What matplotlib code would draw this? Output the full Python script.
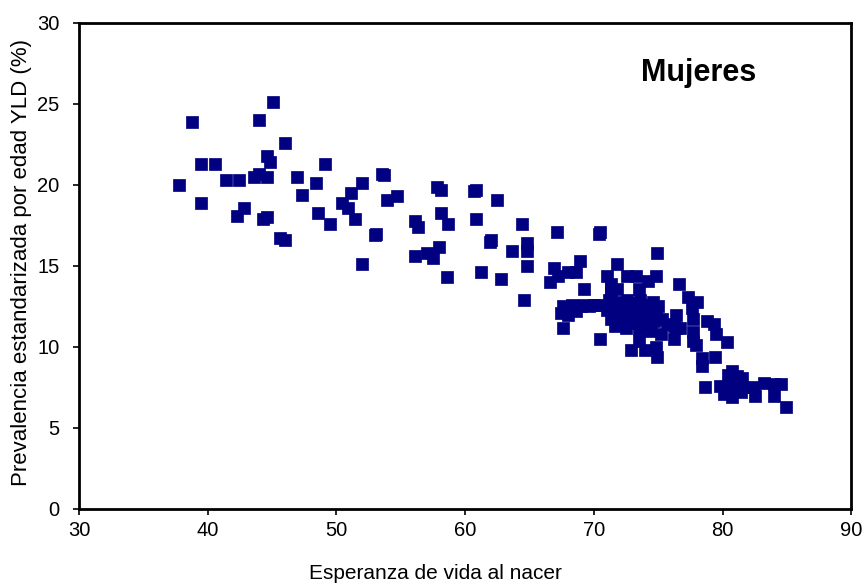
import matplotlib
matplotlib.use("Agg")
import matplotlib.pyplot as plt

plt.rcParams['font.family'] = ['Liberation Sans', 'DejaVu Sans']

esperanza_vida = [
    38.8, 44.0, 45.1, 46.0, 44.6, 44.8, 39.5, 40.6, 49.1, 37.8, 41.4, 42.4, 43.6, 44.0, 44.6, 46.9,
    48.4, 47.3, 51.1, 52.0, 39.5, 42.8, 42.3, 44.3, 44.6, 48.6, 50.4, 50.9, 51.4, 49.5, 45.6, 46.0, 52.0,
    53.5, 53.7, 53.9, 54.7, 57.8, 58.1, 60.8, 60.7, 62.5, 58.1, 58.7, 56.1, 56.3, 60.8, 64.4, 53.1, 53.0,
    62.0, 61.9, 64.8, 63.6, 64.8, 58.0, 56.1, 57.0, 57.5, 64.8, 58.6, 61.2, 62.8, 64.6,
    67.1, 70.5, 70.4, 74.9, 68.9, 71.8, 66.9, 67.2, 66.6, 68.0, 68.6, 71.0, 72.6, 73.3, 74.8, 74.2, 76.6,
    71.3, 71.3, 71.8, 73.5, 69.2, 69.2, 70.0,
    67.6, 68.3, 69.0, 69.6, 70.2, 67.4, 68.0, 68.6, 67.7, 67.6, 70.5,
    71.2, 71.6, 72.1, 72.6, 73.1, 73.6, 74.1, 74.6, 75.0,
    71.0, 71.5, 72.0, 72.4, 72.9, 73.3, 73.8, 74.3, 74.8,
    71.3, 71.8, 72.3, 72.8, 73.2, 73.7, 74.2, 74.7,
    71.6, 72.5, 73.5, 74.4, 71.9, 73.0,
    72.9, 74.0, 74.8, 74.9, 73.5, 75.2, 76.2, 76.4, 76.2, 76.4,
    77.3, 78.0, 77.6, 75.3, 75.7, 76.7, 77.7, 78.8, 79.3, 77.7, 77.7, 77.9, 79.5, 80.3, 78.4, 78.4, 79.4,
    71.3,
    78.6, 80.7, 81.1, 81.5, 79.8, 80.7, 80.1, 80.7, 81.6, 82.4, 83.2, 84.0, 84.5, 82.5, 84.0, 84.9,
    80.4, 81.0, 81.4, 80.5,
]

prevalencia_yld = [
    23.9, 24.0, 25.1, 22.6, 21.8, 21.4, 21.3, 21.3, 21.3, 20.0, 20.3, 20.3, 20.5, 20.7, 20.5, 20.5,
    20.1, 19.4, 19.5, 20.1, 18.9, 18.6, 18.1, 17.9, 18.0, 18.3, 18.9, 18.6, 17.9, 17.6, 16.7, 16.6, 15.1,
    20.7, 20.6, 19.1, 19.3, 19.9, 19.7, 19.7, 19.6, 19.1, 18.3, 17.6, 17.8, 17.4, 17.9, 17.6, 17.0, 16.9,
    16.6, 16.5, 16.4, 15.9, 15.9, 16.2, 15.6, 15.8, 15.5, 15.0, 14.3, 14.6, 14.2, 12.9,
    17.1, 17.1, 17.0, 15.8, 15.3, 15.1, 14.9, 14.4, 14.0, 14.6, 14.6, 14.4, 14.4, 14.4, 14.4, 14.1, 13.9,
    13.9, 13.6, 13.6, 13.6, 13.6, 12.6, 12.6,
    12.5, 12.6, 12.5, 12.5, 12.6, 12.1, 12.0, 12.2, 12.2, 11.2, 10.5,
    12.9, 12.7, 12.8, 12.9, 12.7, 12.9, 12.6, 12.8, 12.5,
    12.3, 12.1, 12.4, 12.2, 12.4, 12.1, 12.3, 12.0, 12.2,
    11.7, 11.9, 11.6, 11.8, 11.5, 11.7, 11.4, 11.6,
    11.3, 11.2, 11.1, 11.0, 12.0, 12.2,
    9.8, 9.8, 10.0, 9.4, 10.4, 10.8, 10.5, 12.0, 11.3, 11.2,
    13.1, 12.8, 12.4, 11.7, 11.4, 11.2, 11.7, 11.6, 11.4, 10.9, 10.4, 10.1, 10.8, 10.3, 9.3, 8.8, 9.4,
    13.3,
    7.5, 8.5, 8.2, 8.1, 7.6, 7.7, 7.1, 6.9, 7.5, 7.5, 7.8, 7.7, 7.7, 7.0, 7.0, 6.3,
    8.3, 7.4, 7.2, 7.2,
]

x_ticks = [30, 40, 50, 60, 70, 80, 90]
y_ticks = [0, 5, 10, 15, 20, 25, 30]

fig = plt.figure(figsize=(8.67, 5.86), dpi=100)
ax = fig.add_axes([0.0911, 0.1314, 0.891, 0.8294])

ax.scatter(esperanza_vida, prevalencia_yld, marker='s', s=68, color='#000080',
           edgecolors='#000080', linewidths=0.5, zorder=3, clip_on=False)

ax.set_xlim(30, 90)
ax.set_ylim(0, 30)
ax.set_xticks(x_ticks)
ax.set_yticks(y_ticks)
ax.tick_params(direction='out', length=4, width=1.2, labelsize=14.5, colors='black')
ax.tick_params(axis='x', pad=5)
ax.tick_params(axis='y', pad=10)

for sp in ax.spines.values():
    sp.set_linewidth(2)
    sp.set_color('black')

ax.set_xlabel('Esperanza de vida al nacer', fontsize=15)
ax.set_ylabel('Prevalencia estandarizada por edad YLD (%)', fontsize=16)
ax.xaxis.set_label_coords(0.461, -0.113)
ax.yaxis.set_label_coords(-0.061, 0.508)

ax.text(0.727, 0.897, 'Mujeres', transform=ax.transAxes, fontsize=22,
        fontweight='bold', ha='left', va='center')

fig.savefig('out.png', dpi=100)
